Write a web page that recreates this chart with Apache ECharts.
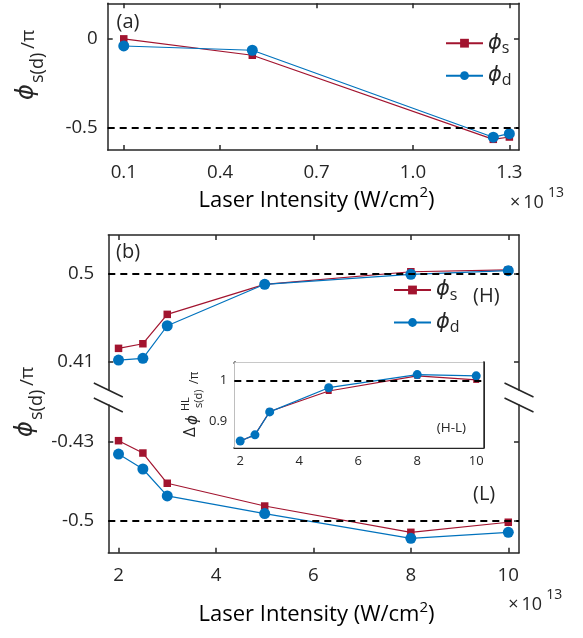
<!DOCTYPE html>
<html><head><meta charset="utf-8">
<script src="https://cdn.jsdelivr.net/npm/echarts@6/dist/echarts.min.js"></script>
<style>html,body{margin:0;padding:0;background:#fff}#c{width:583px;height:638px}</style>
</head><body><div id="c"></div>
<script>
// ---------- data ----------
const aX = [0.1, 0.5, 1.25, 1.3];
const aS = [0, -0.092, -0.565, -0.552];
const aD = [-0.040, -0.064, -0.553, -0.533];
const bX = [2, 2.5, 3, 5, 8, 10];
const bHS = [0.4236, 0.4283, 0.4582, 0.4888, 0.5016, 0.5034];
const bHD = [0.4117, 0.4134, 0.4466, 0.4888, 0.4990, 0.5027];
const bLS = [-0.4291, -0.4400, -0.4667, -0.4868, -0.5100, -0.5011];
const bLD = [-0.4409, -0.4541, -0.4779, -0.4935, -0.5153, -0.5100];
const inS = [0.853, 0.868, 0.925, 0.975, 1.012, 1.002];
const inD = [0.853, 0.868, 0.924, 0.983, 1.015, 1.012];
const aTicksX = [0.1, 0.4, 0.7, 1.0, 1.3];
const aTicksY = [-0.5, 0];
const bTicksX = [2, 4, 6, 8, 10];
const bTicksH = [0.41, 0.5];
const bTicksL = [-0.5, -0.43];
const inTicksY = [0.9, 1];

// ---------- style ----------
const TXT = '#262626', RED = '#A2142F', BLUE = '#0072BD';
const FF = 'Open Sans', PHI = 'DejaVu Sans';
const G = [
  {left:107.7, top:3.3, width:411.3, height:146.7},
  {left:108.3, top:235, width:410.7, height:155},
  {left:108.3, top:405, width:410.7, height:147.7},
  {left:234.3, top:362.3, width:249, height:85.4}
];

function pairs(xs, ys){ return xs.map((x,i)=>[x, ys[i]]); }

function AX(gridIndex, min, max, ticks, position, showLabel, fmt, fs, margin, tl, lw){
  return {
    type:'value', gridIndex, min, max, position,
    axisLine:{show:true, onZero:false, lineStyle:{color:TXT, width:lw}},
    axisTick:{show:true, inside:true, length:tl, customValues:ticks, lineStyle:{color:TXT, width:lw}},
    axisLabel:{show:showLabel, customValues:ticks, formatter:fmt, color:TXT, fontFamily:FF, fontSize:fs, margin:margin},
    splitLine:{show:false}
  };
}
const f1 = v => v.toFixed(1);
const fs = v => String(+v.toFixed(3));

function S(name, xi, yi, xs, ys, color, symbol, size, mark){
  const s = {type:'line', name, xAxisIndex:xi, yAxisIndex:yi, data:pairs(xs, ys),
    symbol, symbolSize:size, lineStyle:{width:1.2, color}, itemStyle:{color},
    color, clip:false, emphasis:{disabled:true}, z:3};
  if (mark !== undefined) {
    s.markLine = {silent:true, symbol:'none', label:{show:false}, animation:false,
      lineStyle:{color:'#000', type:[7,5], width:2}, emphasis:{disabled:true}, data:[{yAxis:mark}]};
  }
  return s;
}

const legendRich = {
  p:{fontSize:21, fontStyle:'italic', fontFamily:PHI, color:TXT, lineHeight:26},
  b:{fontSize:16, fontFamily:FF, color:TXT, verticalAlign:'bottom', lineHeight:12}
};
function L(left, top){
  return {orient:'vertical', left, top, padding:0, itemWidth:37, itemHeight:11, itemGap:9,
    data:['s','d'], selectedMode:false, formatter: n => '{p|ϕ}{b|' + n + '}',
    textStyle:{rich:legendRich}};
}

function T(text, x, y, size){
  return {type:'text', x, y, z:20, style:{text, fill:TXT, fontFamily:FF, fontSize:size,
    align:'left', verticalAlign:'middle'}};
}
function xTitle(x, y){
  return {type:'text', x, y, z:20, style:{text:'{t|Laser Intensity (W/cm}{s|2}{t|)}',
    align:'left', verticalAlign:'middle',
    rich:{t:{fontSize:22, fontFamily:FF, color:TXT, lineHeight:30},
          s:{fontSize:15, fontFamily:FF, color:TXT, verticalAlign:'top', lineHeight:14}}}};
}
function exp13(x, y){
  return [T('×\u200910', x, y, 18), T('13', x + 38, y - 9.5, 14)];
}
function yTitle(x, y){
  return {type:'group', x, y, rotation:Math.PI/2, z:20, children:[
    {type:'text', x:0, y:0, style:{text:'ϕ', fill:TXT, fontFamily:PHI, fontStyle:'italic', fontSize:24, align:'left', verticalAlign:'middle'}},
    {type:'text', x:17, y:11, style:{text:'s(d)', fill:TXT, fontFamily:FF, fontSize:18, align:'left', verticalAlign:'middle'}},
    {type:'text', x:51, y:2, style:{text:'/π', fill:TXT, fontFamily:FF, fontSize:19, align:'left', verticalAlign:'middle'}}
  ]};
}
function insetTitle(x, y){
  return {type:'group', x, y, rotation:Math.PI/2, z:20, children:[
    {type:'text', x:0, y:0, style:{text:'Δ', fill:TXT, fontFamily:FF, fontSize:17, align:'left', verticalAlign:'middle'}},
    {type:'text', x:12, y:3, style:{text:'ϕ', fill:TXT, fontFamily:PHI, fontStyle:'italic', fontSize:15, align:'left', verticalAlign:'middle'}},
    {type:'text', x:26, y:-4, style:{text:'HL', fill:TXT, fontFamily:FF, fontSize:11, align:'left', verticalAlign:'middle'}},
    {type:'text', x:29, y:9, style:{text:'s(d)', fill:TXT, fontFamily:FF, fontSize:11, align:'left', verticalAlign:'middle'}},
    {type:'text', x:53, y:5, style:{text:'/π', fill:TXT, fontFamily:FF, fontSize:12, align:'left', verticalAlign:'middle'}}
  ]};
}
function slashes(ax){
  const yb1 = G[1].top + G[1].height, yt2 = G[2].top;
  const mk = yc => ({type:'line', z:20, shape:{x1:ax-14.5, y1:yc-7, x2:ax+14.5, y2:yc+7},
    style:{stroke:TXT, lineWidth:1.5}});
  return [mk(yb1), mk(yt2)];
}

const option = {
  animation:false, backgroundColor:'#fff', textStyle:{fontFamily:FF},
  grid:[G[0], G[1], G[2], Object.assign({show:true, backgroundColor:'#fff', borderWidth:0, z:1}, G[3])],
  xAxis:[
    AX(0,0.05,1.33,aTicksX,'bottom',true,f1,18.7,13,5,1.5),
    AX(0,0.05,1.33,aTicksX,'top',false,null,18.7,8,5,1.5),
    AX(1,1.79,10.22,bTicksX,'top',false,null,18.7,8,5,1.5),
    AX(2,1.79,10.22,bTicksX,'bottom',true,fs,18.7,13,5,1.5),
    AX(3,1.8,10.24,bTicksX,'bottom',true,fs,13,7,3.5,2),
    AX(3,1.8,10.24,bTicksX,'top',false,null,13,7,3.5,2)
  ],
  yAxis:[
    AX(0,-0.625,0.2,aTicksY,'left',true,fs,18.7,10,5,1.5),
    AX(0,-0.625,0.2,aTicksY,'right',false,null,18.7,8,5,1.5),
    AX(1,0.3812,0.539,bTicksH,'left',true,fs,18.7,14,5,1.5),
    AX(1,0.3812,0.539,bTicksH,'right',false,null,18.7,8,5,1.5),
    AX(2,-0.528,-0.3976,bTicksL,'left',true,fs,18.7,14,5,1.5),
    AX(2,-0.528,-0.3976,bTicksL,'right',false,null,18.7,8,5,1.5),
    AX(3,0.8366,1.045,inTicksY,'left',true,fs,13,7,3.5,2),
    AX(3,0.8366,1.045,inTicksY,'right',false,null,13,7,3.5,2)
  ],
  legend:[L(445, 32.7), L(393, 279.5)],
  series:[
    S('s',0,0,aX,aS,RED,'rect',7.5,-0.5),
    S('d',0,0,aX,aD,BLUE,'circle',11),
    S('s',2,2,bX,bHS,RED,'rect',7.5,0.5),
    S('d',2,2,bX,bHD,BLUE,'circle',11),
    S('s',3,4,bX,bLS,RED,'rect',7.5,-0.5),
    S('d',3,4,bX,bLD,BLUE,'circle',11),
    S('s',4,6,bX,inS,RED,'rect',6,1),
    S('d',4,6,bX,inD,BLUE,'circle',9)
  ],
  graphic:[
    T('(a)', 116.5, 22.5, 20),
    T('(b)', 116, 252.5, 20),
    T('(H)', 473, 296.7, 20),
    T('(L)', 473, 494, 20),
    T('(H-L)', 436.7, 427.7, 13.5),
    ...exp13(510, 202.5),
    ...exp13(508.3, 605),
    xTitle(198.5, 200.5),
    xTitle(198.5, 615),
    yTitle(26.5, 100),
    yTitle(25.5, 437),
    insetTitle(190, 437),
    ...slashes(G[1].left),
    ...slashes(G[1].left + G[1].width)
  ]
};
const chart = echarts.init(document.getElementById('c'));
chart.setOption(option);
</script></body></html>
